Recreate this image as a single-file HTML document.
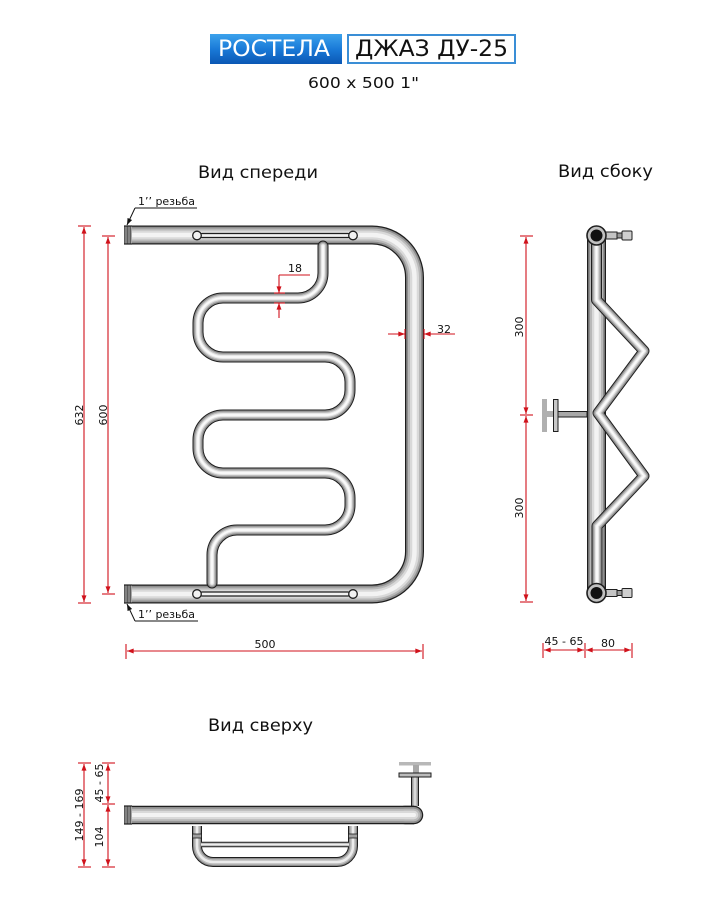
<!DOCTYPE html>
<html><head><meta charset="utf-8"><style>html,body{margin:0;padding:0;background:#fff}svg{display:block}</style></head>
<body>
<svg width="722" height="922" viewBox="0 0 722 922" xmlns="http://www.w3.org/2000/svg" xmlns:xlink="http://www.w3.org/1999/xlink" font-family="'DejaVu Sans','Liberation Sans',sans-serif">
<defs>
<linearGradient id="bl" x1="0" y1="0" x2="0" y2="1"><stop offset="0" stop-color="#3ca2ec"/><stop offset="0.5" stop-color="#1a7ad8"/><stop offset="1" stop-color="#0a57b4"/></linearGradient>
<marker id="ar" viewBox="0 0 8 6" refX="8" refY="3" markerWidth="7" markerHeight="5" markerUnits="userSpaceOnUse" orient="auto-start-reverse"><path d="M0,0 L8,3 L0,6 Z" fill="#d0121b"/></marker>
<marker id="ak" viewBox="0 0 8 6" refX="8" refY="3" markerWidth="7" markerHeight="5" markerUnits="userSpaceOnUse" orient="auto-start-reverse"><path d="M0,0 L8,3 L0,6 Z" fill="#111"/></marker>
<path id="fm" d="M124 235 H372 A42.5 42.5 0 0 1 414.5 277.5 V551.5 A42.5 42.5 0 0 1 372 594 H124"/>
<path id="fs" d="M323 246 V273 A25 25 0 0 1 298 298 H223 A25 25 0 0 0 198 323 V332 A25 25 0 0 0 223 357 H325 A25 25 0 0 1 350 382 V390 A25 25 0 0 1 325 415 H223 A25 25 0 0 0 198 440 V448 A25 25 0 0 0 223 473 H325 A25 25 0 0 1 350 498 V505 A25 25 0 0 1 325 530 H237 A25 25 0 0 0 212 555 V583"/>
<path id="sm" d="M596.5 236 V593"/>
<path id="ss" d="M596.5 245 V300 L644 351 L598 413 L644 476 L597 526 V585"/>
<path id="t1" d="M125 815 H414"/>
<path id="t2" d="M405 815 H414"/>
<path id="tl" d="M197 826 V846 A16 16 0 0 0 213 862 H337 A16 16 0 0 0 353 846 V826"/>
<path id="tst" d="M415 806 V776"/>
</defs>
<rect width="722" height="922" fill="#fff"/>

<!-- Header -->
<rect x="210" y="34" width="132" height="30" fill="url(#bl)"/>
<text x="218" y="56" font-size="22" fill="#fff" textLength="112" lengthAdjust="spacingAndGlyphs">РОСТЕЛА</text>
<rect x="348" y="35" width="167" height="28" fill="#fff" stroke="#3a8ed6" stroke-width="2"/>
<text x="355" y="56" font-size="22" fill="#111" textLength="153" lengthAdjust="spacingAndGlyphs">ДЖАЗ ДУ-25</text>
<text x="308" y="88" font-size="15.5" fill="#111" textLength="111" lengthAdjust="spacingAndGlyphs">600 x 500 1"</text>

<!-- Titles -->
<text x="198" y="178" font-size="16.5" fill="#111" textLength="120" lengthAdjust="spacingAndGlyphs">Вид спереди</text>
<text x="558" y="177" font-size="16.5" fill="#111" textLength="95" lengthAdjust="spacingAndGlyphs">Вид сбоку</text>
<text x="208" y="731" font-size="16.5" fill="#111" textLength="105" lengthAdjust="spacingAndGlyphs">Вид сверху</text>

<!-- FRONT VIEW -->
<g fill="none">
<use xlink:href="#fm" stroke="#1e1e1e" stroke-width="19"/>
<use xlink:href="#fm" stroke="#8e8e8e" stroke-width="16.5"/>
<use xlink:href="#fm" stroke="#b8b8b8" stroke-width="13"/>
<use xlink:href="#fm" stroke="#d9d9d9" stroke-width="9"/>
<use xlink:href="#fm" stroke="#f3f3f3" stroke-width="4.5"/>
</g>
<!-- threads -->
<g>
<rect x="124" y="226" width="8" height="18" fill="#a8a8a8"/>
<rect x="124" y="585" width="8" height="18" fill="#a8a8a8"/>
<g stroke="#4a4a4a" stroke-width="0.8">
<line x1="124.5" y1="226" x2="124.5" y2="244"/><line x1="126" y1="226" x2="126" y2="244"/><line x1="127.5" y1="226" x2="127.5" y2="244"/><line x1="129" y1="226" x2="129" y2="244"/><line x1="130.5" y1="226" x2="130.5" y2="244"/>
<line x1="124.5" y1="585" x2="124.5" y2="603"/><line x1="126" y1="585" x2="126" y2="603"/><line x1="127.5" y1="585" x2="127.5" y2="603"/><line x1="129" y1="585" x2="129" y2="603"/><line x1="130.5" y1="585" x2="130.5" y2="603"/>
</g>
<line x1="124" y1="226" x2="132" y2="226" stroke="#1e1e1e" stroke-width="1.2"/>
<line x1="124" y1="244" x2="132" y2="244" stroke="#1e1e1e" stroke-width="1.2"/>
<line x1="124" y1="585" x2="132" y2="585" stroke="#1e1e1e" stroke-width="1.2"/>
<line x1="124" y1="603" x2="132" y2="603" stroke="#1e1e1e" stroke-width="1.2"/>
</g>
<!-- slots -->
<g stroke="#1e1e1e" stroke-width="1.3" fill="#f2f2f2">
<rect x="200" y="233.5" width="150" height="4" rx="2"/>
<circle cx="197" cy="235.5" r="4.3"/>
<circle cx="353" cy="235.5" r="4.3"/>
<rect x="200" y="592" width="150" height="4" rx="2"/>
<circle cx="197" cy="594" r="4.3"/>
<circle cx="353" cy="594" r="4.3"/>
</g>
<!-- serpentine -->
<g fill="none" stroke-linecap="round" stroke-linejoin="round">
<use xlink:href="#fs" stroke="#1e1e1e" stroke-width="11"/>
<use xlink:href="#fs" stroke="#8e8e8e" stroke-width="9"/>
<use xlink:href="#fs" stroke="#bdbdbd" stroke-width="6.5"/>
<use xlink:href="#fs" stroke="#e6e6e6" stroke-width="4"/>
<use xlink:href="#fs" stroke="#fafafa" stroke-width="1.8"/>
</g>

<!-- front dims -->
<g stroke="#d0121b" stroke-width="1.1" fill="none">
<line x1="84" y1="227" x2="84" y2="602" marker-start="url(#ar)" marker-end="url(#ar)"/>
<line x1="78" y1="226" x2="91" y2="226"/><line x1="78" y1="603" x2="91" y2="603"/>
<line x1="108" y1="237" x2="108" y2="593" marker-start="url(#ar)" marker-end="url(#ar)"/>
<line x1="102" y1="236" x2="115" y2="236"/><line x1="102" y1="594" x2="115" y2="594"/>
<line x1="127" y1="651" x2="422" y2="651" marker-start="url(#ar)" marker-end="url(#ar)"/>
<line x1="126" y1="644" x2="126" y2="659"/><line x1="423" y1="644" x2="423" y2="659"/>
<!-- 18 -->
<line x1="310" y1="275" x2="279" y2="275"/>
<line x1="279" y1="275" x2="279" y2="293" marker-end="url(#ar)"/>
<line x1="279" y1="318" x2="279" y2="303" marker-end="url(#ar)"/>
<line x1="274" y1="293" x2="285" y2="293"/><line x1="274" y1="303" x2="285" y2="303"/>
<!-- 32 -->
<line x1="388" y1="334" x2="405" y2="334" marker-end="url(#ar)"/>
<line x1="455" y1="334" x2="424" y2="334" marker-end="url(#ar)"/>
<line x1="405" y1="329" x2="405" y2="339"/><line x1="424" y1="329" x2="424" y2="339"/>
</g>
<g font-size="11" fill="#111">
<text transform="translate(83,415) rotate(-90)" text-anchor="middle">632</text>
<text transform="translate(107,415) rotate(-90)" text-anchor="middle">600</text>
<text x="265" y="648" text-anchor="middle">500</text>
<text x="295" y="272" text-anchor="middle">18</text>
<text x="444" y="333" text-anchor="middle">32</text>
<text x="138" y="205" textLength="57" lengthAdjust="spacingAndGlyphs">1’’ резьба</text>
<text x="138" y="618" textLength="57" lengthAdjust="spacingAndGlyphs">1’’ резьба</text>
</g>
<g stroke="#111" stroke-width="1" fill="none">
<line x1="135" y1="208" x2="197" y2="208"/>
<line x1="135" y1="208" x2="127" y2="225" marker-end="url(#ak)"/>
<line x1="135" y1="621" x2="198" y2="621"/>
<line x1="135" y1="621" x2="127" y2="604" marker-end="url(#ak)"/>
</g>

<!-- SIDE VIEW -->
<rect x="542" y="399" width="5" height="33" fill="#b0b0b0"/>
<rect x="547" y="411" width="6" height="6" fill="#b0b0b0"/>
<rect x="553.5" y="399.5" width="4.5" height="32" fill="#c8c8c8" stroke="#1e1e1e" stroke-width="1"/>
<rect x="558" y="411.5" width="29" height="5.5" fill="#a8a8a8" stroke="#1e1e1e" stroke-width="1"/>
<g fill="none">
<use xlink:href="#sm" stroke="#1e1e1e" stroke-width="19"/>
<use xlink:href="#sm" stroke="#8e8e8e" stroke-width="16.5"/>
<use xlink:href="#sm" stroke="#b8b8b8" stroke-width="13"/>
<use xlink:href="#sm" stroke="#d9d9d9" stroke-width="9"/>
<use xlink:href="#sm" stroke="#f3f3f3" stroke-width="4.5"/>
</g>
<g fill="none" stroke-linecap="round" stroke-linejoin="round">
<use xlink:href="#ss" stroke="#1e1e1e" stroke-width="11"/>
<use xlink:href="#ss" stroke="#8e8e8e" stroke-width="9"/>
<use xlink:href="#ss" stroke="#bdbdbd" stroke-width="6.5"/>
<use xlink:href="#ss" stroke="#e6e6e6" stroke-width="4"/>
<use xlink:href="#ss" stroke="#fafafa" stroke-width="1.8"/>
</g>
<!-- fittings -->
<g stroke="#1e1e1e" stroke-width="1">
<rect x="605" y="232" width="12" height="7" fill="#c4c4c4"/>
<rect x="617" y="233" width="5" height="5" fill="#999"/>
<rect x="622" y="231" width="10" height="9" rx="1" fill="#cfcfcf"/>
<rect x="605" y="589.5" width="12" height="7" fill="#c4c4c4"/>
<rect x="617" y="590.5" width="5" height="5" fill="#999"/>
<rect x="622" y="588.5" width="10" height="9" rx="1" fill="#cfcfcf"/>
</g>
<g>
<circle cx="596.5" cy="235.5" r="9.5" fill="#c0c0c0" stroke="#1e1e1e" stroke-width="1.6"/>
<circle cx="596.5" cy="235.5" r="6" fill="#111"/>
<circle cx="596.5" cy="593" r="9.5" fill="#c0c0c0" stroke="#1e1e1e" stroke-width="1.6"/>
<circle cx="596.5" cy="593" r="6" fill="#111"/>
</g>
<!-- side dims -->
<g stroke="#d0121b" stroke-width="1.1" fill="none">
<line x1="526" y1="237" x2="526" y2="414" marker-start="url(#ar)" marker-end="url(#ar)"/>
<line x1="526" y1="416" x2="526" y2="601" marker-start="url(#ar)" marker-end="url(#ar)"/>
<line x1="520" y1="236" x2="533" y2="236"/><line x1="520" y1="415" x2="533" y2="415"/><line x1="520" y1="602" x2="533" y2="602"/>
<line x1="544" y1="650" x2="584" y2="650" marker-start="url(#ar)" marker-end="url(#ar)"/>
<line x1="586" y1="650" x2="631" y2="650" marker-start="url(#ar)" marker-end="url(#ar)"/>
<line x1="543" y1="643" x2="543" y2="658"/><line x1="585" y1="643" x2="585" y2="658"/><line x1="632" y1="643" x2="632" y2="658"/>
</g>
<g font-size="11" fill="#111">
<text transform="translate(523,327) rotate(-90)" text-anchor="middle">300</text>
<text transform="translate(523,508) rotate(-90)" text-anchor="middle">300</text>
<text x="564" y="645" text-anchor="middle">45 - 65</text>
<text x="608" y="647" text-anchor="middle">80</text>
</g>

<!-- TOP VIEW -->
<rect x="399" y="762" width="32" height="3.5" fill="#b8b8b8"/>
<rect x="413" y="765" width="6" height="8" fill="#a8a8a8"/>
<g fill="none">
<use xlink:href="#tst" stroke="#1e1e1e" stroke-width="8"/>
<use xlink:href="#tst" stroke="#9a9a9a" stroke-width="6"/>
<use xlink:href="#tst" stroke="#dadada" stroke-width="3"/>
</g>
<rect x="399" y="773" width="32" height="4" fill="#bbb" stroke="#1e1e1e" stroke-width="1"/>
<!-- loop -->
<g fill="none" stroke-linejoin="round">
<use xlink:href="#tl" stroke="#1e1e1e" stroke-width="10"/>
<use xlink:href="#tl" stroke="#8e8e8e" stroke-width="8"/>
<use xlink:href="#tl" stroke="#bdbdbd" stroke-width="5.5"/>
<use xlink:href="#tl" stroke="#ececec" stroke-width="2.5"/>
<line x1="201" y1="844.5" x2="349" y2="844.5" stroke="#1e1e1e" stroke-width="5.5"/>
<line x1="201" y1="844.5" x2="349" y2="844.5" stroke="#b5b5b5" stroke-width="3.5"/>
<line x1="201" y1="844.5" x2="349" y2="844.5" stroke="#ededed" stroke-width="1.4"/>
</g>
<g stroke="#1e1e1e" stroke-width="0.8" fill="#a0a0a0">
<rect x="192.5" y="834" width="9" height="4"/>
<rect x="348.5" y="834" width="9" height="4"/>
</g>
<!-- main pipe top -->
<g fill="none">
<use xlink:href="#t1" stroke="#1e1e1e" stroke-width="18.5"/>
<use xlink:href="#t2" stroke="#1e1e1e" stroke-width="18.5" stroke-linecap="round"/>
<use xlink:href="#t1" stroke="#8e8e8e" stroke-width="16"/>
<use xlink:href="#t2" stroke="#8e8e8e" stroke-width="16" stroke-linecap="round"/>
<use xlink:href="#t1" stroke="#b8b8b8" stroke-width="12.5"/>
<use xlink:href="#t2" stroke="#b8b8b8" stroke-width="12.5" stroke-linecap="round"/>
<use xlink:href="#t1" stroke="#d9d9d9" stroke-width="8.5"/>
<use xlink:href="#t2" stroke="#d9d9d9" stroke-width="8.5" stroke-linecap="round"/>
<use xlink:href="#t1" stroke="#f3f3f3" stroke-width="4"/>
<use xlink:href="#t2" stroke="#f3f3f3" stroke-width="4" stroke-linecap="round"/>
</g>
<rect x="124" y="806" width="8" height="18" fill="#a8a8a8"/>
<g stroke="#4a4a4a" stroke-width="0.8">
<line x1="124.5" y1="806" x2="124.5" y2="824"/><line x1="126" y1="806" x2="126" y2="824"/><line x1="127.5" y1="806" x2="127.5" y2="824"/><line x1="129" y1="806" x2="129" y2="824"/><line x1="130.5" y1="806" x2="130.5" y2="824"/>
</g>
<line x1="124" y1="806" x2="132" y2="806" stroke="#1e1e1e" stroke-width="1.2"/>
<line x1="124" y1="824" x2="132" y2="824" stroke="#1e1e1e" stroke-width="1.2"/>
<!-- top dims -->
<g stroke="#d0121b" stroke-width="1.1" fill="none">
<line x1="84" y1="764" x2="84" y2="866" marker-start="url(#ar)" marker-end="url(#ar)"/>
<line x1="78" y1="763" x2="91" y2="763"/><line x1="78" y1="867" x2="91" y2="867"/>
<line x1="108" y1="764" x2="108" y2="803" marker-start="url(#ar)" marker-end="url(#ar)"/>
<line x1="108" y1="805" x2="108" y2="866" marker-start="url(#ar)" marker-end="url(#ar)"/>
<line x1="102" y1="763" x2="115" y2="763"/><line x1="102" y1="804" x2="115" y2="804"/><line x1="102" y1="867" x2="115" y2="867"/>
</g>
<g font-size="11" fill="#111">
<text transform="translate(83,815) rotate(-90)" text-anchor="middle">149 - 169</text>
<text transform="translate(103,783) rotate(-90)" text-anchor="middle">45 - 65</text>
<text transform="translate(103,837) rotate(-90)" text-anchor="middle">104</text>
</g>
</svg>
</body></html>
